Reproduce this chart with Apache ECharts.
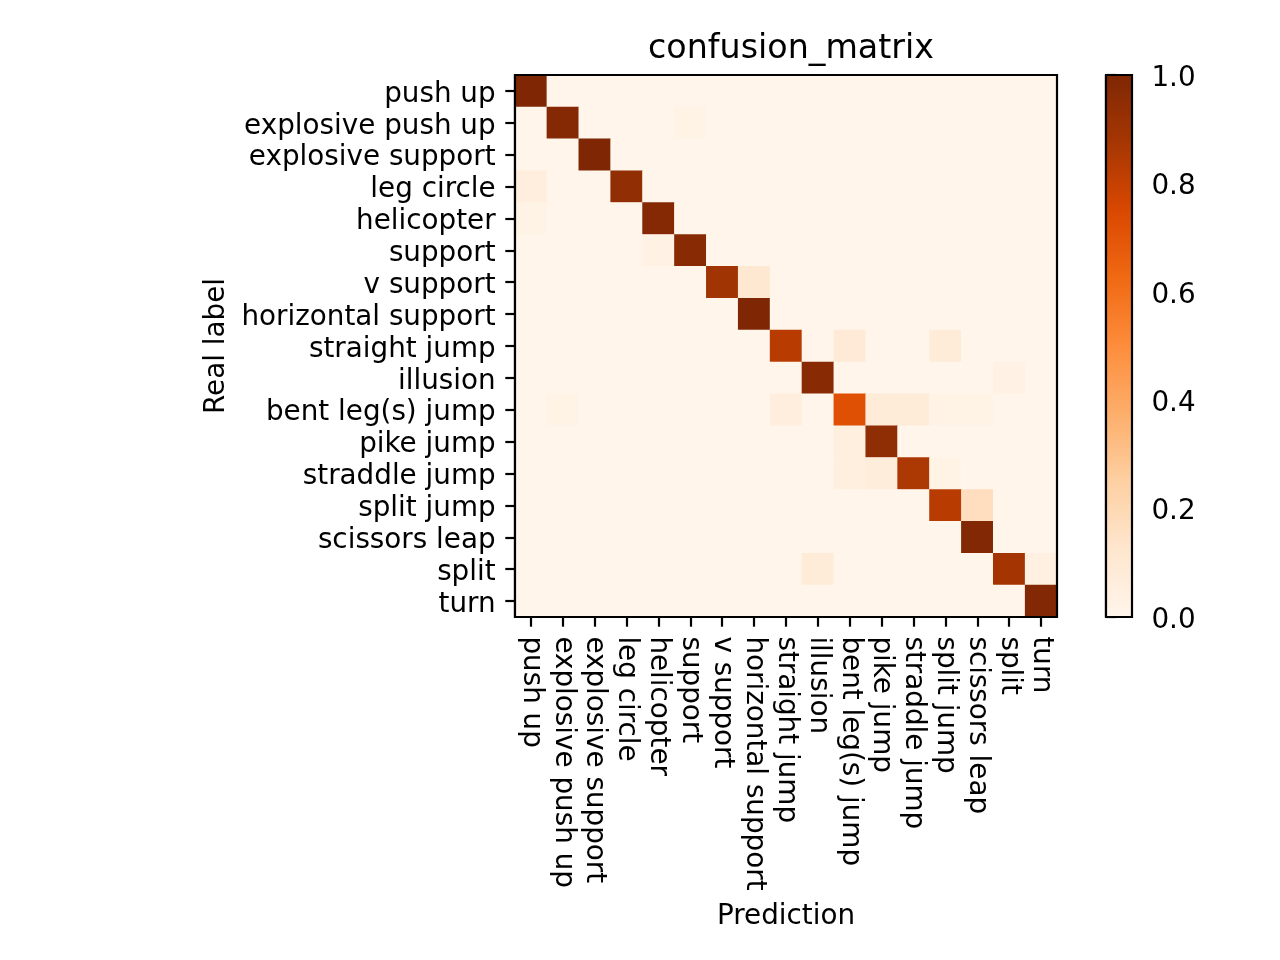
<!DOCTYPE html>
<html>
<head>
<meta charset="utf-8">
<script src="https://cdn.jsdelivr.net/npm/echarts@6/dist/echarts.min.js"></script>
<style>
  html, body { margin: 0; padding: 0; background: #fff; }
  #main { width: 1280px; height: 960px; }
</style>
</head>
<body>
<div id="main"></div>
<script>
// class names, same order on both axes
var labels = ['push up', 'explosive push up', 'explosive support', 'leg circle',
    'helicopter', 'support', 'v support', 'horizontal support', 'straight jump',
    'illusion', 'bent leg(s) jump', 'pike jump', 'straddle jump', 'split jump',
    'scissors leap', 'split', 'turn'];

// row = real label, column = prediction (row-normalised)
var confusion = [
    [1.00, 0, 0, 0, 0, 0, 0, 0, 0, 0, 0, 0, 0, 0, 0, 0, 0],
    [0, 0.98, 0, 0, 0, 0.02, 0, 0, 0, 0, 0, 0, 0, 0, 0, 0, 0],
    [0, 0, 1.00, 0, 0, 0, 0, 0, 0, 0, 0, 0, 0, 0, 0, 0, 0],
    [0.06, 0, 0, 0.94, 0, 0, 0, 0, 0, 0, 0, 0, 0, 0, 0, 0, 0],
    [0.02, 0, 0, 0, 0.98, 0, 0, 0, 0, 0, 0, 0, 0, 0, 0, 0, 0],
    [0, 0, 0, 0, 0.03, 0.97, 0, 0, 0, 0, 0, 0, 0, 0, 0, 0, 0],
    [0, 0, 0, 0, 0, 0, 0.89, 0.11, 0, 0, 0, 0, 0, 0, 0, 0, 0],
    [0, 0, 0, 0, 0, 0, 0, 1.00, 0, 0, 0, 0, 0, 0, 0, 0, 0],
    [0, 0, 0, 0, 0, 0, 0, 0, 0.83, 0, 0.09, 0, 0, 0.08, 0, 0, 0],
    [0, 0, 0, 0, 0, 0, 0, 0, 0, 0.97, 0, 0, 0, 0, 0, 0.03, 0],
    [0, 0.02, 0, 0, 0, 0, 0, 0, 0.06, 0, 0.72, 0.08, 0.08, 0.02, 0.02, 0, 0],
    [0, 0, 0, 0, 0, 0, 0, 0, 0, 0, 0.05, 0.95, 0, 0, 0, 0, 0],
    [0, 0, 0, 0, 0, 0, 0, 0, 0, 0, 0.05, 0.07, 0.86, 0.02, 0, 0, 0],
    [0, 0, 0, 0, 0, 0, 0, 0, 0, 0, 0, 0, 0, 0.83, 0.17, 0, 0],
    [0, 0, 0, 0, 0, 0, 0, 0, 0, 0, 0, 0, 0, 0, 0.99, 0, 0],
    [0, 0, 0, 0, 0, 0, 0, 0, 0, 0.08, 0, 0, 0, 0, 0, 0.88, 0.04],
    [0, 0, 0, 0, 0, 0, 0, 0, 0, 0, 0, 0, 0, 0, 0, 0, 0.99]
];

// matplotlib "Oranges"
var oranges = ['#fff5eb', '#fee6ce', '#fdd0a2', '#fdae6b', '#fd8d3c',
    '#f16913', '#d94801', '#a63603', '#7f2704'];

var cells = [];
confusion.forEach(function (row, r) {
    row.forEach(function (v, c) {
        cells.push([c, r, v]);
    });
});

var font = 'DejaVu Sans';
var fs = 27.8;
var lw = 2.2;

// nudges horizontal tick labels a few px down, like matplotlib's baseline
var shiftDown = {
    t: { fontFamily: font, fontSize: fs, color: '#000', padding: [7, 0, 0, 0] }
};

var chart = echarts.init(document.getElementById('main'), null, { renderer: 'canvas' });

var option = {
    backgroundColor: '#fff',
    animation: false,
    textStyle: { fontFamily: font, color: '#000' },
    title: {
        text: 'confusion_matrix',
        left: 786,
        textAlign: 'center',
        top: 28,
        textStyle: { fontFamily: font, fontSize: 33.3, fontWeight: 'normal', color: '#000' }
    },
    grid: [
        { left: 515, top: 75, width: 542, height: 542, show: true, z: 10,
          backgroundColor: 'transparent', borderColor: '#000', borderWidth: lw },
        { left: 1106, top: 75, width: 26, height: 542, show: true, z: 10,
          backgroundColor: 'transparent', borderColor: '#000', borderWidth: lw }
    ],
    xAxis: [
        {
            type: 'category',
            gridIndex: 0,
            data: labels,
            name: 'Prediction',
            nameLocation: 'middle',
            nameGap: 286,
            nameTextStyle: { fontFamily: font, fontSize: fs, color: '#000' },
            axisLine: { show: true, lineStyle: { color: '#000', width: lw } },
            axisTick: { show: true, alignWithLabel: true, length: 9.7, lineStyle: { color: '#000', width: lw } },
            axisLabel: { interval: 0, rotate: -90, margin: 19.4, fontFamily: font, fontSize: fs, color: '#000' },
            splitLine: { show: false }
        },
        { type: 'value', gridIndex: 1, show: false, min: 0, max: 1 }
    ],
    yAxis: [
        {
            type: 'category',
            gridIndex: 0,
            data: labels,
            inverse: true,
            name: 'Real label',
            nameLocation: 'middle',
            nameRotate: 90,
            nameGap: 284,
            nameTextStyle: { fontFamily: font, fontSize: fs, color: '#000' },
            axisLine: { show: true, lineStyle: { color: '#000', width: lw } },
            axisTick: { show: true, alignWithLabel: true, length: 9.7, lineStyle: { color: '#000', width: lw } },
            axisLabel: {
                interval: 0, margin: 19.4, fontFamily: font, fontSize: fs, color: '#000',
                formatter: function (v) { return '{t|' + v + '}'; },
                rich: shiftDown
            },
            splitLine: { show: false }
        },
        {
            type: 'value',
            gridIndex: 1,
            position: 'right',
            min: 0,
            max: 1,
            interval: 0.2,
            axisLine: { show: true, lineStyle: { color: '#000', width: lw } },
            axisTick: { show: true, length: 9.7, lineStyle: { color: '#000', width: lw } },
            axisLabel: {
                margin: 19.4, fontFamily: font, fontSize: fs, color: '#000',
                formatter: function (v) { return '{t|' + v.toFixed(1) + '}'; },
                rich: shiftDown
            },
            splitLine: { show: false }
        }
    ],
    visualMap: {
        type: 'continuous',
        min: 0,
        max: 1,
        seriesIndex: 0,
        left: 1106,
        top: 75,
        itemWidth: 26,
        itemHeight: 542,
        padding: 0,
        calculable: false,
        hoverLink: false,
        text: null,
        showLabel: false,
        inRange: { color: oranges }
    },
    series: [
        {
            type: 'heatmap',
            xAxisIndex: 0,
            yAxisIndex: 0,
            data: cells,
            itemStyle: { borderWidth: 0 },
            emphasis: { disabled: true }
        }
    ]
};

chart.setOption(option);
</script>
</body>
</html>
